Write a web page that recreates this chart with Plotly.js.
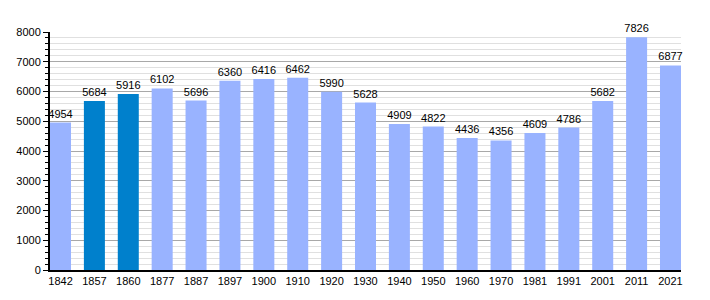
<!DOCTYPE html>
<html><head><meta charset="utf-8">
<script src="https://cdn.plot.ly/plotly-3.0.1.min.js"></script>
<style>body{margin:0;padding:0;background:#fff}#chart{width:710px;height:300px}</style>
</head><body><div id="chart"></div>
<script>
const years = ["1842","1857","1860","1877","1887","1897","1900","1910","1920","1930","1940","1950","1960","1970","1981","1991","2001","2011","2021"];
const population = [4954,5684,5916,6102,5696,6360,6416,6462,5990,5628,4909,4822,4436,4356,4609,4786,5682,7826,6877];
const highlighted = ["1857","1860"];
const lightColor = "#99b3ff", darkColor = "#0080cc";
const colors = years.map(y => highlighted.includes(y) ? darkColor : lightColor);

const trace = {
  type: "bar",
  x: years.map((_, i) => i),
  y: population,
  width: 0.62,
  marker: {color: colors, line: {width: 0}},
  text: population.map(String),
  textposition: "outside",
  constraintext: "none",
  cliponaxis: false,
  textfont: {family: "Liberation Sans, Arial, sans-serif", size: 11, color: "#000"},
  hoverinfo: "none"
};

const layout = {
  width: 710, height: 300,
  margin: {l: 50, r: 29, t: 32, b: 30, pad: 0},
  paper_bgcolor: "#fff", plot_bgcolor: "#fff",
  showlegend: false,
  font: {family: "Liberation Sans, Arial, sans-serif", size: 11, color: "#000"},
  xaxis: {
    type: "linear",
    range: [-0.31, 18.31],
    tickmode: "array",
    tickvals: years.map((_, i) => i),
    ticktext: years,
    showgrid: false, zeroline: false,
    showline: true, linecolor: "#000", linewidth: 2,
    ticks: "", ticklen: 0,
    tickfont: {size: 11, color: "#000"}
  },
  yaxis: {
    range: [0, 8000],
    dtick: 1000,
    tick0: 0,
    showgrid: true, gridcolor: "#a8a8a8", gridwidth: 1,
    zeroline: false,
    showline: true, linecolor: "#000", linewidth: 2,
    ticks: "outside", ticklen: 5, tickcolor: "#000", tickwidth: 1,
    tickfont: {size: 11, color: "#000"},
    minor: {dtick: 200, showgrid: true, gridcolor: "#e0e0e0", gridwidth: 1, ticks: "outside", ticklen: 3, tickcolor: "#000"}
  },
  bargap: 0.38
};

Plotly.newPlot("chart", [trace], layout, {staticPlot: true, displayModeBar: false});
</script></body></html>
